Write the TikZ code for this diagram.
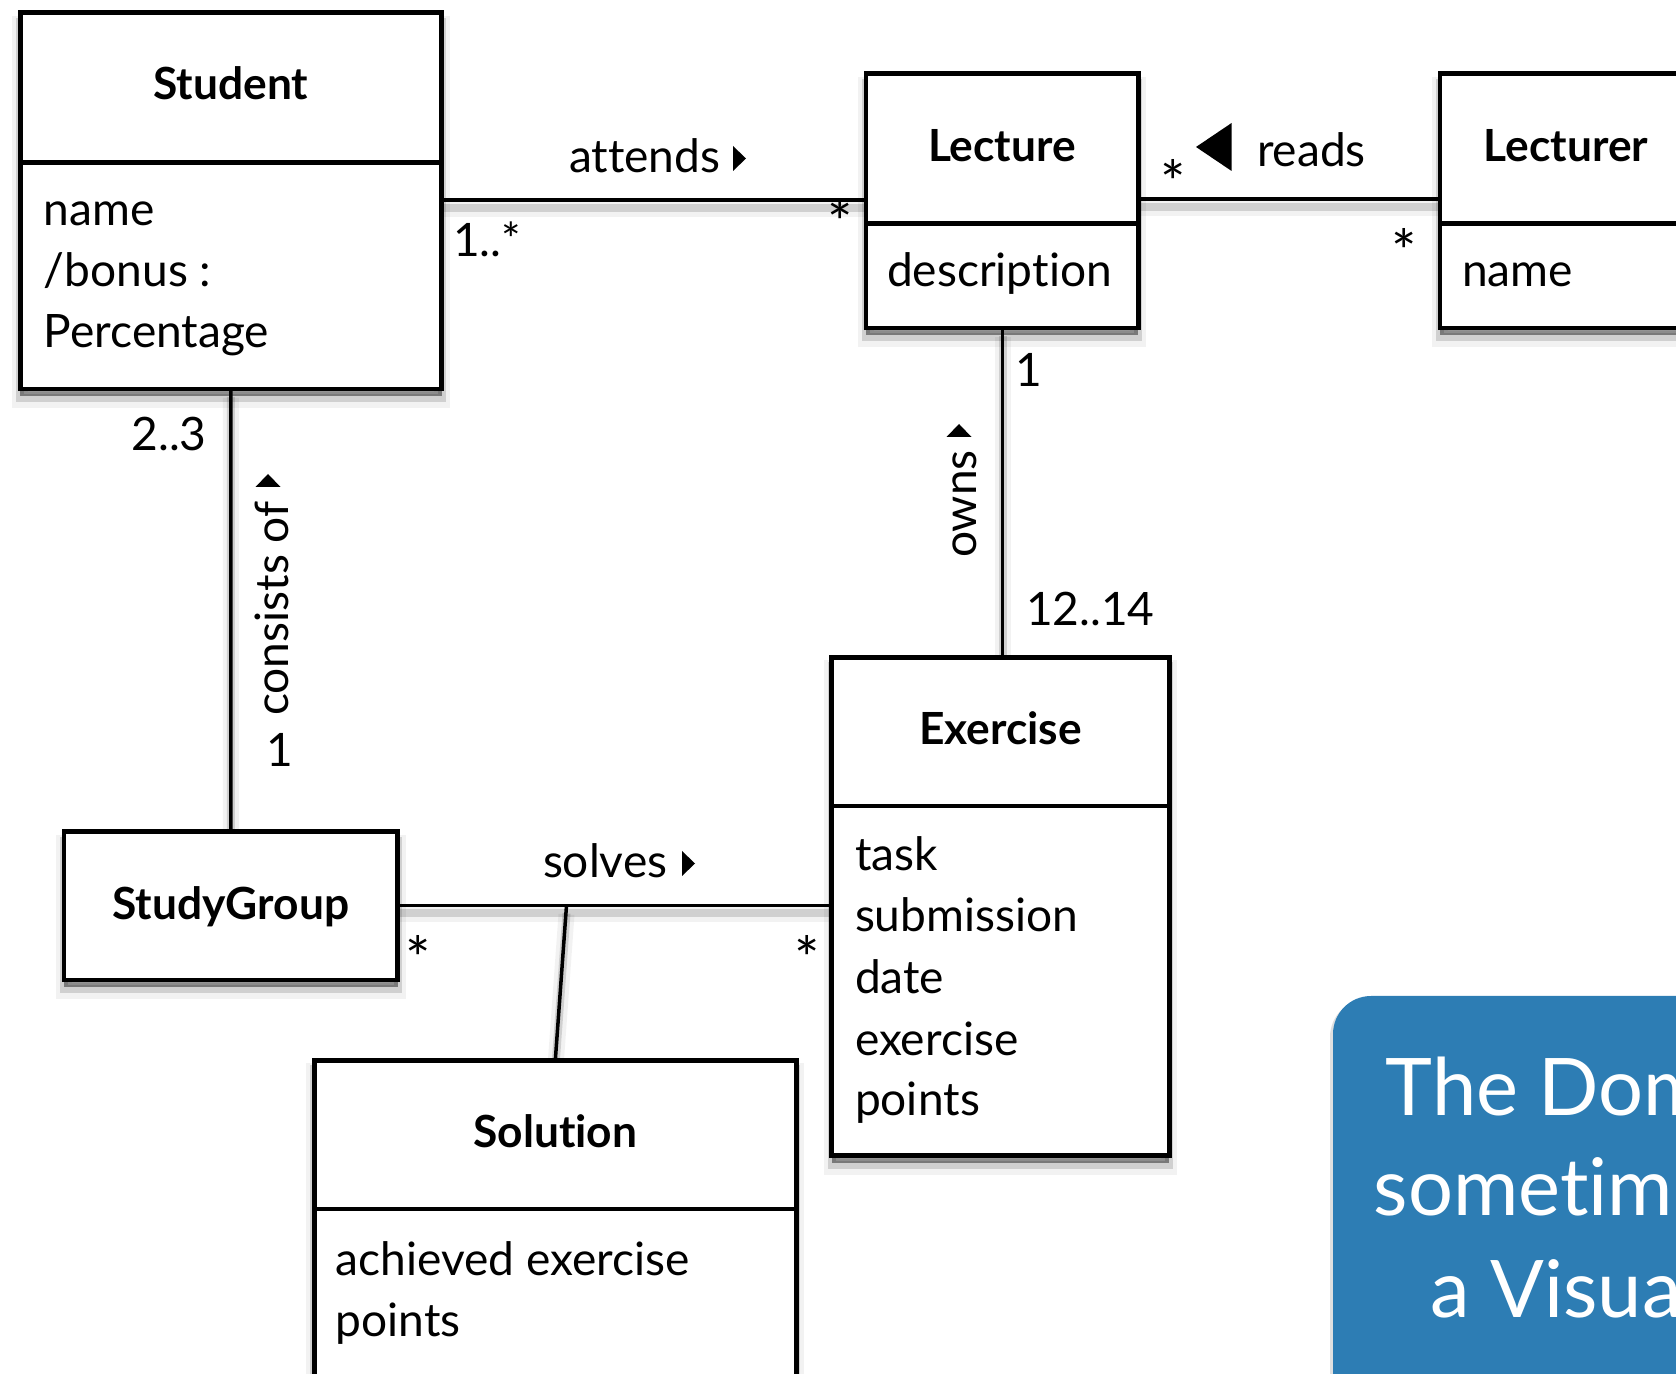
\documentclass[tikz,border=0pt]{standalone}
\usepackage{fontspec}
\setmainfont{Lato}[Ligatures=NoCommon]
\usetikzlibrary{fit}
\definecolor{notebg}{RGB}{45,125,180}
\pgfdeclarelayer{bg}
\pgfsetlayers{bg,main}
\tikzset{
  umlbox/.style={draw=black, line width=1.3pt, fill=white, inner sep=0pt, outer sep=0pt,
    preaction={fill=black, opacity=0.42, transform canvas={yshift=-0.07cm}},
    preaction={draw=black, opacity=0.14, line width=0.08cm, transform canvas={yshift=-0.09cm}},
    preaction={draw=black, opacity=0.05, line width=0.16cm, transform canvas={yshift=-0.11cm}}},
  divider/.style={draw=black, line width=1.3pt},
  assoc/.style={draw=black, line width=1pt,
    preaction={draw=black, opacity=0.14, line width=0.08cm, transform canvas={yshift=-0.08cm}},
    preaction={draw=black, opacity=0.05, line width=0.16cm, transform canvas={yshift=-0.09cm}}},
  txt/.style={inner sep=0pt, outer sep=0pt, font=\fontsize{13.1}{15.5}\selectfont},
  title/.style={txt, font=\fontsize{12.6}{15}\selectfont\bfseries, anchor=base},
  attr/.style={txt, anchor=base west},
  star/.style={inner sep=0pt, outer sep=0pt, font=\fontsize{17}{18}\selectfont, anchor=north},
  tri/.style={fill=black},
  note/.style={fill=notebg, rounded corners=0.38cm, inner sep=0pt,
    preaction={fill=black, opacity=0.12, rounded corners=0.38cm, transform canvas={xshift=-0.03cm,yshift=-0.03cm}}},
  notetext/.style={inner sep=0pt, anchor=base west, text=white, font=\fontsize{22.6}{27}\selectfont},
}
\begin{document}
\begin{tikzpicture}[x=0.01cm,y=-0.01cm]
\useasboundingbox (0,0) rectangle (1676,1374);
\clip (0,0) rectangle (1676,1374);

% note box
\node[note, fit={(1333,996) (1760,1460)}] (notebox) {};
\node[notetext] (note1) at (1385,1115) {The Dom};
\node[notetext] (note2) at (1373,1215) {sometime};
\node[notetext] (note3) at (1430,1317) {a Visual};

% Student
\node[umlbox, fit={(20.3,12.8) (441.5,389)}] (student) {};
\draw[divider] (student.west |- 0,162.5) -- (student.east |- 0,162.5);
\node[title] (studentT) at (230.9,100) {Student};
\node[attr] (studentA1) at (44,226) {name};
\node[attr] (studentA2) at (44,287) {/bonus :};
\node[attr] (studentA3) at (44,348) {Percentage};

% Lecture
\node[umlbox, fit={(865.8,73.8) (1138.4,328.2)}] (lecture) {};
\draw[divider] (lecture.west |- 0,223.4) -- (lecture.east |- 0,223.4);
\node[title] (lectureT) at (1002,162) {Lecture};
\node[attr] (lectureA1) at (887,287) {description};

% Lecturer
\node[umlbox, fit={(1440,73.8) (1700,328.2)}] (lecturer) {};
\draw[divider] (lecturer.west |- 0,223.4) -- (lecturer.east |- 0,223.4);
\node[title] (lecturerT) at (1566,162) {Lecturer};
\node[attr] (lecturerA1) at (1462,287) {name};

% Exercise
\node[umlbox, fit={(831.6,657.4) (1169.4,1155.5)}] (exercise) {};
\draw[divider] (exercise.west |- 0,806) -- (exercise.east |- 0,806);
\node[title] (exerciseT) at (1000.5,744.5) {Exercise};
\node[attr] (exerciseA1) at (855,871) {task};
\node[attr] (exerciseA2) at (855,932) {submission};
\node[attr] (exerciseA3) at (855,993.5) {date};
\node[attr] (exerciseA4) at (855,1055) {exercise};
\node[attr] (exerciseA5) at (855,1116) {points};

% StudyGroup
\node[umlbox, fit={(64.1,831.6) (397.6,980.2)}] (studygroup) {};
\node[title] (studygroupT) at (230.9,920) {StudyGroup};

% Solution
\node[umlbox, fit={(314.3,1060.3) (796.3,1430)}] (solution) {};
\draw[divider] (solution.west |- 0,1209) -- (solution.east |- 0,1209);
\node[title] (solutionT) at (555.3,1147.5) {Solution};
\node[attr] (solutionA1) at (335.6,1275) {achieved exercise};
\node[attr] (solutionA2) at (335.6,1336) {points};

% connectors
\coordinate (sj) at (566.5,905.4);
\begin{pgfonlayer}{bg}
\draw[assoc] (student.east |- 0,200) -- (lecture.west |- 0,200);
\draw[assoc] (lecture.east |- 0,199) -- (lecturer.west |- 0,199);
\draw[assoc] (lecture.south -| 1002.6,0) -- (exercise.north -| 1002.6,0);
\draw[assoc] (student.south) -- (studygroup.north);
\draw[assoc] (studygroup.east |- 0,905.4) -- (exercise.west |- 0,905.4);
\draw[assoc] (sj) -- (solution.north);
\end{pgfonlayer}

% attends
\node[attr] (attendsL) at (569,173) {attends};
\fill[tri] (733,146) -- (746,158.5) -- (733,171) -- cycle;
\node[attr] (m11) at (453,256.6) {1..*};
\node[star] (m12) at (840,199) {*};

% reads
\node[star] (m21) at (1173,159) {*};
\fill[tri] (1196,147) -- (1231.6,123) -- (1231.6,171) -- cycle;
\node[attr] (readsL) at (1257,166.7) {reads};
\node[star] (m22) at (1404,228) {*};

% owns
\node[attr] (m31) at (1015,386.7) {1};
\node[txt, rotate=90, anchor=base] (ownsL) at (976,504) {owns};
\fill[tri] (946.5,437) -- (959,424) -- (971.5,437) -- cycle;
\node[attr] (m32) at (1026,626) {12..14};

% consists of
\node[attr] (m41) at (131.5,451) {2..3};
\node[txt, rotate=90, anchor=base] (consistsL) at (288.6,608.7) {consists of};
\fill[tri] (255.5,487) -- (268,474) -- (280.5,487) -- cycle;
\node[attr] (m42) at (266,767) {1};

% solves
\node[attr] (solvesL) at (543,878) {solves};
\fill[tri] (682,851) -- (695,863.5) -- (682,876) -- cycle;
\node[star] (m51) at (418,935) {*};
\node[star] (m52) at (807,935) {*};
\end{tikzpicture}
\end{document}
